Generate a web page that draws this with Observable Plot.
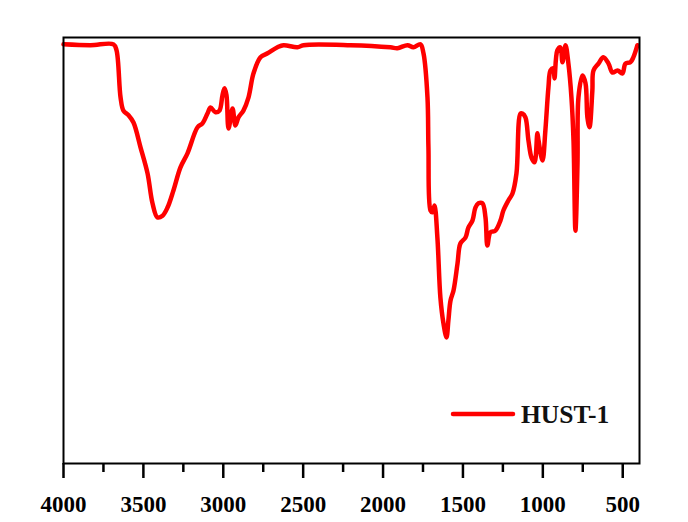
<!DOCTYPE html>
<html>
<head>
<meta charset="utf-8">
<script src="https://cdn.jsdelivr.net/npm/d3@7"></script>
<script src="https://cdn.jsdelivr.net/npm/@observablehq/plot@0.6"></script>
<style>
  html, body { margin: 0; padding: 0; background: #ffffff; }
  #chart { width: 688px; height: 522px; }
  #chart svg text { font-family: 'Liberation Serif', 'Times New Roman', serif !important; }
</style>
</head>
<body>
<div id="chart"></div>
<script>
// IR spectrum of HUST-1: wavenumber (cm-1) and transmittance (arbitrary units)
const wavenumber = [4000, 3831, 3687, 3668, 3643, 3625, 3593, 3562, 3518, 3474, 3443, 3412, 3380, 3349, 3312, 3268, 3224, 3161, 3130, 3099, 3080, 3049, 3024, 3005, 2992, 2980, 2967, 2942, 2924, 2905, 2874, 2842, 2811, 2767, 2723, 2661, 2623, 2536, 2498, 2204, 1954, 1910, 1847, 1810, 1766, 1747, 1722, 1716, 1703, 1691, 1678, 1660, 1641, 1622, 1603, 1591, 1578, 1559, 1534, 1516, 1484, 1466, 1440, 1422, 1403, 1378, 1359, 1347, 1328, 1297, 1265, 1247, 1215, 1190, 1165, 1140, 1128, 1109, 1090, 1071, 1052, 1034, 1027, 1002, 984, 965, 952, 934, 927, 909, 890, 877, 858, 840, 821, 808, 796, 783, 777, 752, 733, 721, 708, 690, 683, 652, 621, 589, 564, 533, 502, 483, 452, 433, 408];
const transmittance = [98.6, 98.4, 98.6, 97.2, 86.2, 83.1, 82.0, 80.3, 74.5, 68.4, 61.4, 58.1, 58.5, 60.4, 64.4, 69.8, 73.1, 79.2, 80.1, 82.4, 83.8, 82.7, 83.1, 86.7, 88.3, 86.7, 78.9, 83.6, 79.6, 81.5, 83.1, 86.2, 91.8, 95.6, 96.5, 97.9, 98.4, 97.9, 98.4, 98.4, 97.9, 97.7, 98.4, 97.9, 98.6, 96.5, 86.2, 74.5, 59.7, 59.3, 60.9, 53.4, 39.3, 33.3, 30.0, 34.0, 38.6, 41.0, 47.3, 52.0, 53.4, 55.7, 57.4, 60.4, 61.4, 61.4, 58.1, 51.5, 54.6, 55.0, 57.4, 59.7, 62.1, 63.7, 68.4, 82.4, 82.4, 81.5, 76.1, 72.1, 71.0, 77.8, 76.1, 71.4, 78.5, 88.5, 92.5, 93.0, 90.6, 97.2, 97.9, 94.4, 98.4, 94.1, 86.2, 76.1, 55.0, 70.7, 86.2, 91.3, 89.5, 81.5, 79.2, 87.8, 92.5, 94.1, 95.6, 94.1, 92.0, 92.5, 91.8, 94.1, 94.4, 95.6, 98.4];
const majorTicks = [4000, 3500, 3000, 2500, 2000, 1500, 1000, 500];
const minorTicks = [3750, 3250, 2750, 2250, 1750, 1250, 750];
const seriesName = "HUST-1";

const data = wavenumber.map((w, i) => ({w, t: transmittance[i]}));

const fontFam = "'Liberation Serif', 'Times New Roman', serif";

const chart = Plot.plot({
  width: 688,
  height: 522,
  marginLeft: 63,
  marginRight: 49,
  marginTop: 37,
  marginBottom: 59,
  style: {background: "#ffffff", fontFamily: fontFam, overflow: "visible"},
  x: {domain: [4000, 395], label: null},
  y: {domain: [0.5, 100.2], axis: null},
  marks: [
    Plot.axisX({ticks: minorTicks, tickSize: 9, text: null, strokeWidth: 2.5, stroke: "#000"}),
    Plot.axisX({ticks: majorTicks, tickSize: 15, tickPadding: 17, strokeWidth: 2.5, stroke: "#000",
      tickFormat: d => String(d), fontSize: 23, fontWeight: "bold", fontFamily: fontFam, fill: "#000", label: null}),
    Plot.line(data, {x: "w", y: "t", stroke: "#ff0000", strokeWidth: 4.5, strokeLinejoin: "round", strokeLinecap: "round", curve: "catmull-rom"}),
    Plot.frame({stroke: "#000", strokeWidth: 2})
  ]
});

// Legend inside the plot area (bottom-right)
const svg = d3.select(chart);
const lg = svg.append("g");
lg.append("line").attr("x1", 453).attr("x2", 513).attr("y1", 414).attr("y2", 414)
  .attr("stroke", "#ff0000").attr("stroke-width", 4.5).attr("stroke-linecap", "round");
lg.append("text").attr("x", 521).attr("y", 423).attr("text-anchor", "start").text(seriesName)
  .attr("font-family", fontFam).attr("font-size", 25.5).attr("font-weight", "bold").attr("fill", "#111");

document.getElementById("chart").appendChild(chart);
</script>
</body>
</html>
